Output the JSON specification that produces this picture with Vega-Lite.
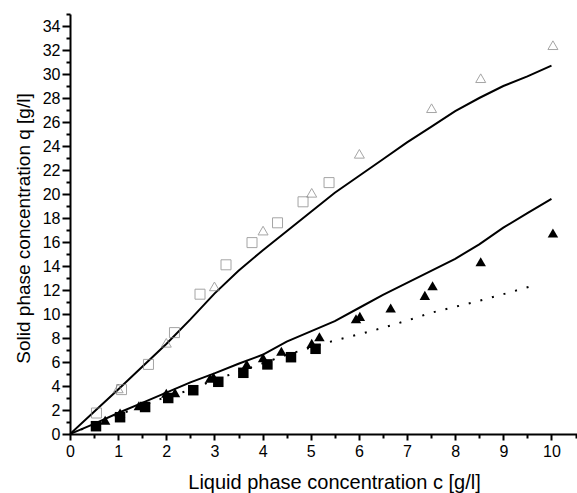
{
  "$schema": "https://vega.github.io/schema/vega-lite/v6.json",
  "autosize": "none",
  "width": 507,
  "height": 420,
  "padding": {"left": 70, "top": 14, "right": 0, "bottom": 59},
  "background": "white",
  "config": {
    "view": {"stroke": null},
    "font": "Liberation Sans",
    "axis": {"grid": false, "domainColor": "black", "tickColor": "black", "labelColor": "black", "titleColor": "black", "labelFont": "Liberation Sans", "titleFont": "Liberation Sans", "titleFontWeight": "normal"}
  },
  "datasets": {
    "openSquares": [
      {"c": 0.55, "q": 1.75}, {"c": 1.07, "q": 3.7}, {"c": 1.63, "q": 5.8}, {"c": 2.17, "q": 8.45},
      {"c": 2.7, "q": 11.65}, {"c": 3.24, "q": 14.1}, {"c": 3.78, "q": 15.95}, {"c": 4.31, "q": 17.6},
      {"c": 4.84, "q": 19.35}, {"c": 5.38, "q": 20.95}
    ],
    "openTriangles": [
      {"c": 1.0, "q": 3.8}, {"c": 2.0, "q": 7.6}, {"c": 3.0, "q": 12.3}, {"c": 4.01, "q": 16.95},
      {"c": 5.02, "q": 20.1}, {"c": 6.01, "q": 23.35}, {"c": 7.51, "q": 27.15}, {"c": 8.53, "q": 29.65},
      {"c": 10.03, "q": 32.4}
    ],
    "filledTriangles": [
      {"c": 0.73, "q": 1.15}, {"c": 1.04, "q": 1.75}, {"c": 1.43, "q": 2.35}, {"c": 2.0, "q": 3.4},
      {"c": 2.18, "q": 3.45}, {"c": 2.91, "q": 4.65}, {"c": 2.98, "q": 4.75}, {"c": 3.67, "q": 5.8},
      {"c": 4.01, "q": 6.35}, {"c": 4.39, "q": 6.9}, {"c": 5.02, "q": 7.55}, {"c": 5.18, "q": 8.1},
      {"c": 5.94, "q": 9.6}, {"c": 6.02, "q": 9.8}, {"c": 6.66, "q": 10.5}, {"c": 7.37, "q": 11.55},
      {"c": 7.53, "q": 12.35}, {"c": 8.53, "q": 14.35}, {"c": 10.03, "q": 16.75}
    ],
    "filledSquares": [
      {"c": 0.54, "q": 0.65}, {"c": 1.04, "q": 1.4}, {"c": 1.56, "q": 2.25}, {"c": 2.04, "q": 3.0},
      {"c": 2.56, "q": 3.65}, {"c": 3.08, "q": 4.35}, {"c": 3.6, "q": 5.1}, {"c": 4.1, "q": 5.8},
      {"c": 4.59, "q": 6.4}, {"c": 5.1, "q": 7.1}
    ],
    "solidCurves": [
      {"curve": "upper", "c": 0, "q": 0}, {"curve": "upper", "c": 0.5, "q": 1.85}, {"curve": "upper", "c": 1, "q": 3.7},
      {"curve": "upper", "c": 1.5, "q": 5.6}, {"curve": "upper", "c": 2, "q": 7.5}, {"curve": "upper", "c": 2.5, "q": 9.55},
      {"curve": "upper", "c": 3, "q": 11.7}, {"curve": "upper", "c": 3.5, "q": 13.6}, {"curve": "upper", "c": 4, "q": 15.3},
      {"curve": "upper", "c": 4.5, "q": 16.9}, {"curve": "upper", "c": 5, "q": 18.5}, {"curve": "upper", "c": 5.5, "q": 20.1},
      {"curve": "upper", "c": 6, "q": 21.5}, {"curve": "upper", "c": 6.5, "q": 22.9}, {"curve": "upper", "c": 7, "q": 24.3},
      {"curve": "upper", "c": 7.5, "q": 25.6}, {"curve": "upper", "c": 8, "q": 26.9}, {"curve": "upper", "c": 8.5, "q": 28.0},
      {"curve": "upper", "c": 9, "q": 29.0}, {"curve": "upper", "c": 9.5, "q": 29.8}, {"curve": "upper", "c": 10, "q": 30.7},
      {"curve": "lower", "c": 0, "q": 0}, {"curve": "lower", "c": 0.5, "q": 0.85}, {"curve": "lower", "c": 1, "q": 1.75},
      {"curve": "lower", "c": 1.5, "q": 2.6}, {"curve": "lower", "c": 2, "q": 3.45}, {"curve": "lower", "c": 2.5, "q": 4.3},
      {"curve": "lower", "c": 3, "q": 5.05}, {"curve": "lower", "c": 3.5, "q": 5.85}, {"curve": "lower", "c": 4, "q": 6.6},
      {"curve": "lower", "c": 4.5, "q": 7.7}, {"curve": "lower", "c": 5, "q": 8.55}, {"curve": "lower", "c": 5.5, "q": 9.4},
      {"curve": "lower", "c": 6, "q": 10.5}, {"curve": "lower", "c": 6.5, "q": 11.6}, {"curve": "lower", "c": 7, "q": 12.6},
      {"curve": "lower", "c": 7.5, "q": 13.6}, {"curve": "lower", "c": 8, "q": 14.6}, {"curve": "lower", "c": 8.5, "q": 15.8},
      {"curve": "lower", "c": 9, "q": 17.2}, {"curve": "lower", "c": 9.5, "q": 18.4}, {"curve": "lower", "c": 10, "q": 19.6}
    ],
    "dottedCurve": [
      {"c": 0, "q": 0}, {"c": 1, "q": 1.6}, {"c": 2, "q": 3.1}, {"c": 2.4, "q": 3.55}, {"c": 3, "q": 4.5},
      {"c": 3.8, "q": 5.6}, {"c": 4.5, "q": 6.6}, {"c": 5.5, "q": 7.8}, {"c": 6, "q": 8.3}, {"c": 6.5, "q": 8.85},
      {"c": 7, "q": 9.45}, {"c": 7.5, "q": 10.1}, {"c": 8, "q": 10.6}, {"c": 8.5, "q": 11.1}, {"c": 9, "q": 11.65},
      {"c": 9.7, "q": 12.45}
    ]
  },
  "resolve": {"axis": {"x": "independent", "y": "independent"}},
  "layer": [
    {
      "data": {"name": "solidCurves"},
      "mark": {"type": "line", "color": "black", "strokeWidth": 2, "clip": true},
      "encoding": {
        "x": {"field": "c", "type": "quantitative", "scale": {"domain": [0, 10.53], "nice": false, "zero": false},
          "axis": {"values": [0,1,2,3,4,5,6,7,8,9,10], "format": "d", "tickSize": 6, "tickWidth": 2, "domainWidth": 2,
            "labelFontSize": 16, "labelPadding": 3, "labelFlush": false,
            "title": "Liquid phase concentration c [g/l]", "titleFontSize": 20, "titleX": 264, "titleY": 38, "titleAnchor": "middle"}},
        "y": {"field": "q", "type": "quantitative", "scale": {"domain": [0, 35], "nice": false},
          "axis": {"values": [0,2,4,6,8,10,12,14,16,18,20,22,24,26,28,30,32,34], "format": "d", "tickSize": 8, "tickWidth": 2, "domainWidth": 2,
            "labelFontSize": 16, "labelPadding": 2, "labelFlush": false, "labelBaseline": "middle",
            "title": "Solid phase concentration q [g/l]", "titleFontSize": 19, "titleX": -37, "titleY": 214, "titleAnchor": "middle"}},
        "detail": {"field": "curve", "type": "nominal"}
      }
    },
    {
      "data": {"name": "dottedCurve"},
      "mark": {"type": "line", "color": "black", "strokeWidth": 2, "strokeDash": [2, 10], "strokeCap": "butt"},
      "encoding": {
        "x": {"field": "c", "type": "quantitative",
          "axis": {"orient": "bottom", "values": [0.5,1.5,2.5,3.5,4.5,5.5,6.5,7.5,8.5,9.5,10.5], "labels": false, "domain": false, "tickSize": 4, "tickWidth": 2, "title": null}},
        "y": {"field": "q", "type": "quantitative",
          "axis": {"orient": "left", "values": [1,3,5,7,9,11,13,15,17,19,21,23,25,27,29,31,33,35], "labels": false, "domain": false, "tickSize": 4, "tickWidth": 2, "title": null}}
      }
    },
    {
      "data": {"name": "openSquares"},
      "mark": {"type": "point", "shape": "square", "size": 100, "filled": false, "stroke": "#7f7f7f", "strokeWidth": 1},
      "encoding": {
        "x": {"field": "c", "type": "quantitative", "axis": null},
        "y": {"field": "q", "type": "quantitative", "axis": null}
      }
    },
    {
      "data": {"name": "openTriangles"},
      "mark": {"type": "point", "shape": "triangle-up", "size": 100, "filled": false, "stroke": "#7f7f7f", "strokeWidth": 1},
      "encoding": {
        "x": {"field": "c", "type": "quantitative", "axis": null},
        "y": {"field": "q", "type": "quantitative", "axis": null}
      }
    },
    {
      "data": {"name": "filledTriangles"},
      "mark": {"type": "point", "shape": "triangle-up", "size": 110, "filled": true, "fill": "black", "opacity": 1},
      "encoding": {
        "x": {"field": "c", "type": "quantitative", "axis": null},
        "y": {"field": "q", "type": "quantitative", "axis": null}
      }
    },
    {
      "data": {"name": "filledSquares"},
      "mark": {"type": "point", "shape": "square", "size": 110, "filled": true, "fill": "black", "opacity": 1},
      "encoding": {
        "x": {"field": "c", "type": "quantitative", "axis": null},
        "y": {"field": "q", "type": "quantitative", "axis": null}
      }
    }
  ]
}
